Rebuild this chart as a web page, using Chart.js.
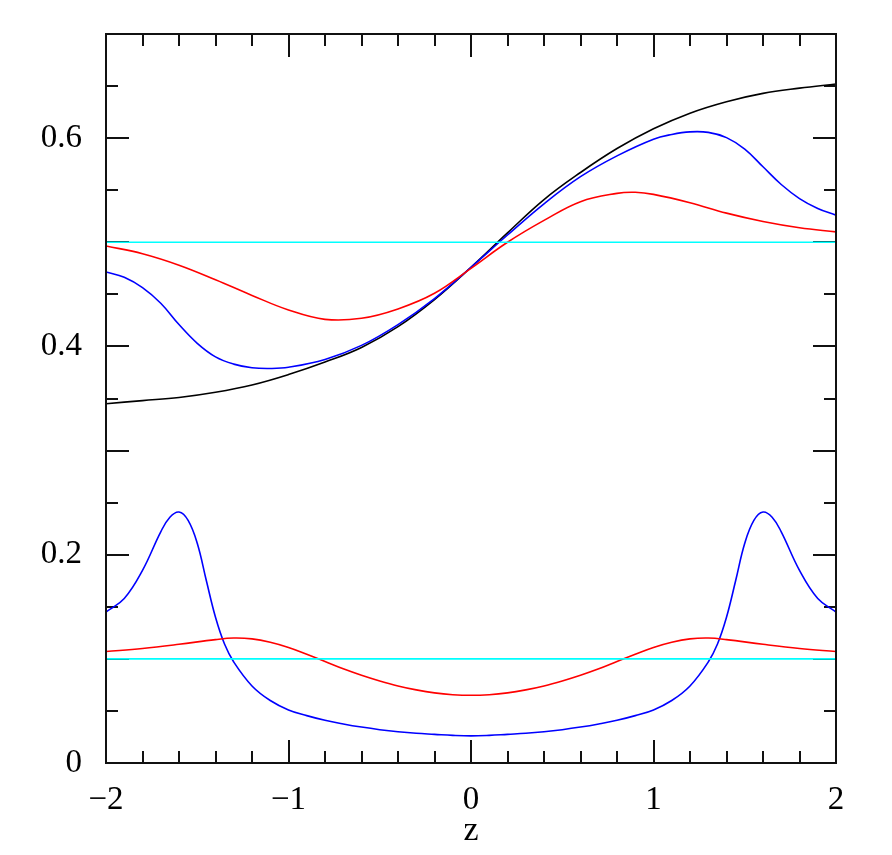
<!DOCTYPE html>
<html>
<head>
<meta charset="utf-8">
<script src="https://cdn.jsdelivr.net/npm/chart.js@4.4.0/dist/chart.umd.min.js"></script>
<style>
  html, body { margin: 0; padding: 0; background: #fff; }
</style>
</head>
<body>
<canvas id="chart" width="892" height="855"></canvas>
<script>
// upper curves
const zBlack = [-2, -1.8, -1.6, -1.4, -1.2, -1.0, -0.8, -0.6, -0.4, -0.2, 0, 0.2, 0.4, 0.6, 0.8, 1.0, 1.2, 1.4, 1.6, 1.8, 2.0];
const blackUpper = [0.345, 0.348, 0.351, 0.356, 0.363, 0.373, 0.385, 0.399, 0.419, 0.445, 0.476, 0.509, 0.541, 0.567, 0.590, 0.609, 0.624, 0.635, 0.643, 0.648, 0.652];

const zBlueUp = [-2, -1.9, -1.8, -1.7, -1.6, -1.5, -1.4, -1.3, -1.2, -1.1, -1.0, -0.8, -0.6, -0.4, -0.2, 0, 0.2, 0.4, 0.6, 0.8, 1.0, 1.1, 1.2, 1.3, 1.4, 1.5, 1.6, 1.7, 1.8, 1.9, 2.0];
const blueUpper = [0.4715, 0.4665, 0.4565, 0.4415, 0.421, 0.403, 0.390, 0.383, 0.3795, 0.3788, 0.380, 0.3875, 0.401, 0.421, 0.446, 0.476, 0.507, 0.537, 0.563, 0.583, 0.599, 0.6035, 0.606, 0.6055, 0.6005, 0.5895, 0.5725, 0.5555, 0.542, 0.5325, 0.526];

const zRedUp = [-2, -1.8, -1.6, -1.4, -1.2, -1.0, -0.8, -0.6, -0.4, -0.2, 0, 0.2, 0.4, 0.6, 0.8, 0.9, 1.0, 1.2, 1.4, 1.6, 1.8, 2.0];
const redUpper = [0.4965, 0.489, 0.478, 0.464, 0.449, 0.435, 0.426, 0.427, 0.436, 0.451, 0.475, 0.500, 0.521, 0.539, 0.547, 0.548, 0.546, 0.538, 0.528, 0.520, 0.514, 0.510];

// lower curves
const zBlueLow = [-2, -1.9, -1.8, -1.7, -1.65, -1.6, -1.55, -1.5, -1.45, -1.4, -1.35, -1.3, -1.2, -1.1, -1.0, -0.9, -0.8, -0.7, -0.6, -0.5, -0.4, -0.3, -0.2, -0.1, 0,
                  0.1, 0.2, 0.3, 0.4, 0.5, 0.6, 0.7, 0.8, 0.9, 1.0, 1.1, 1.2, 1.3, 1.35, 1.4, 1.45, 1.5, 1.55, 1.6, 1.65, 1.7, 1.8, 1.9, 2];
const blueLower = [0.145, 0.158, 0.185, 0.222, 0.236, 0.241, 0.233, 0.211, 0.175, 0.140, 0.114, 0.097, 0.074, 0.060, 0.051, 0.0455, 0.041, 0.0375, 0.0345, 0.032, 0.030, 0.0285, 0.0275, 0.0265, 0.026,
                   0.0265, 0.0275, 0.0285, 0.030, 0.032, 0.0345, 0.0375, 0.041, 0.0455, 0.051, 0.060, 0.074, 0.097, 0.114, 0.140, 0.175, 0.211, 0.233, 0.241, 0.236, 0.222, 0.185, 0.158, 0.145];

const zRedLow = [-2, -1.8, -1.6, -1.4, -1.3, -1.2, -1.1, -1.0, -0.9, -0.8, -0.7, -0.6, -0.5, -0.4, -0.3, -0.2, -0.1, 0,
                 0.1, 0.2, 0.3, 0.4, 0.5, 0.6, 0.7, 0.8, 0.9, 1.0, 1.1, 1.2, 1.3, 1.4, 1.6, 1.8, 2];
const redLower = [0.107, 0.110, 0.114, 0.1185, 0.120, 0.1192, 0.116, 0.111, 0.1045, 0.0975, 0.0905, 0.0843, 0.0788, 0.074, 0.0702, 0.0673, 0.0656, 0.065,
                  0.0656, 0.0673, 0.0702, 0.074, 0.0788, 0.0843, 0.0905, 0.0975, 0.1045, 0.111, 0.116, 0.1192, 0.120, 0.1185, 0.114, 0.110, 0.107];

// flat reference lines
const zFlat = [-2, 2];
const cyanLevels = [0.5, 0.1];

function pts(zs, vs) {
    return zs.map((z, i) => ({ x: z, y: vs[i] }));
}

function curve(data, color) {
    return {
        data: data,
        borderColor: color,
        borderWidth: 1.6,
        pointRadius: 0,
        showLine: true,
        fill: false,
        tension: 0.4
    };
}

const serif = '"Liberation Serif", "DejaVu Serif", serif';

// tick marks pointing inward on all four sides
const frameTicks = {
    id: 'frameTicks',
    beforeDatasetsDraw(chart) {
        const { ctx, chartArea: a, scales: { x, y } } = chart;
        ctx.save();
        ctx.strokeStyle = '#111';
        ctx.lineWidth = 2;
        ctx.beginPath();
        for (let i = -10; i <= 10; i++) {
            const len = (i % 5 === 0) ? 23 : 12;
            const px = Math.round(x.getPixelForValue(i / 5));
            ctx.moveTo(px, a.bottom); ctx.lineTo(px, a.bottom - len);
            ctx.moveTo(px, a.top); ctx.lineTo(px, a.top + len);
        }
        for (let i = 0; i <= 14; i++) {
            const len = (i % 2 === 0) ? 23 : 12;
            const py = Math.round(y.getPixelForValue(i / 20));
            ctx.moveTo(a.left, py); ctx.lineTo(a.left + len, py);
            ctx.moveTo(a.right, py); ctx.lineTo(a.right - len, py);
        }
        ctx.stroke();
        ctx.restore();
    },
    afterDatasetsDraw(chart) {
        const { ctx, chartArea: a } = chart;
        ctx.save();
        ctx.strokeStyle = '#111';
        ctx.lineWidth = 2;
        ctx.strokeRect(a.left, a.top, a.right - a.left, a.bottom - a.top);
        ctx.restore();
    }
};

new Chart(document.getElementById('chart'), {
    type: 'scatter',
    data: {
        datasets: [
            curve(pts(zFlat, [cyanLevels[0], cyanLevels[0]]), '#00ffff'),
            curve(pts(zFlat, [cyanLevels[1], cyanLevels[1]]), '#00ffff'),
            curve(pts(zRedUp, redUpper), '#ff0000'),
            curve(pts(zRedLow, redLower), '#ff0000'),
            curve(pts(zBlueUp, blueUpper), '#0000ff'),
            curve(pts(zBlueLow, blueLower), '#0000ff'),
            curve(pts(zBlack, blackUpper), '#000000')
        ]
    },
    options: {
        responsive: false,
        animation: false,
        layout: { padding: { top: 34, right: 56, left: 0, bottom: 0 } },
        plugins: { legend: { display: false }, tooltip: { enabled: false } },
        scales: {
            x: {
                type: 'linear',
                min: -2,
                max: 2,
                grid: { display: false, drawTicks: false },
                border: { display: false },
                ticks: {
                    stepSize: 1,
                    padding: 18,
                    color: '#000',
                    font: { family: serif, size: 33 },
                    callback: v => v < 0 ? '\u2212' + Math.abs(v) : String(v)
                },
                title: {
                    display: true,
                    text: 'z',
                    color: '#000',
                    font: { family: serif, size: 34 },
                    padding: { top: 0, bottom: 4 }
                },
                afterFit: scale => {
                    scale.height = 92;
                    scale.paddingLeft = 0;
                    scale.paddingRight = 0;
                }
            },
            y: {
                min: 0,
                max: 0.7,
                grid: { display: false, drawTicks: false },
                border: { display: false },
                ticks: {
                    stepSize: 0.2,
                    padding: 24,
                    color: '#000',
                    font: { family: serif, size: 33 },
                    callback: v => v > 0.65 ? '' : String(Math.round(v * 10) / 10)
                },
                afterFit: scale => {
                    scale.width = 106;
                    scale.paddingTop = 0;
                    scale.paddingBottom = 0;
                }
            }
        }
    },
    plugins: [frameTicks]
});
</script>
</body>
</html>
